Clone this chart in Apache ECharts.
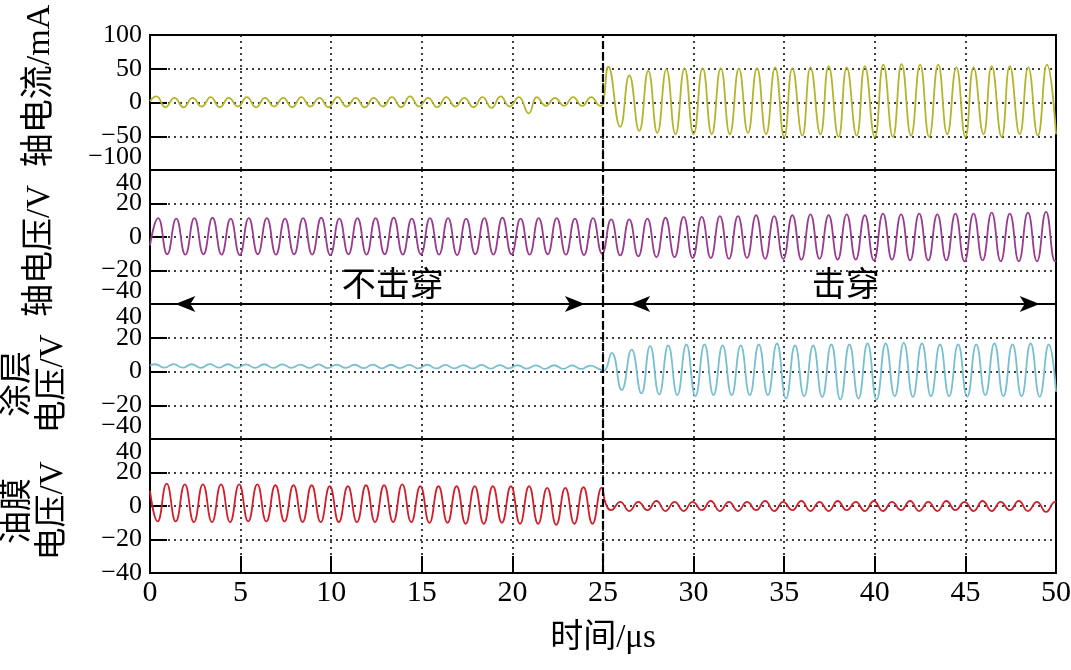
<!DOCTYPE html>
<html><head><meta charset="utf-8">
<script src="https://cdn.jsdelivr.net/npm/echarts@6/dist/echarts.min.js"></script>
<style>html,body{margin:0;padding:0;background:#fff}#c{width:1071px;height:670px}</style>
</head><body><div id="c"></div>
<script>
const panelNames = ['轴电流/mA', '轴电压/V', '涂层\n电压/V', '油膜\n电压/V'];
const xAxisName = '时间/μs';
const stateLabels = ['不击穿', '击穿'];
const breakTime = [25];
const arrowSpans = [[1.4, 24.0], [26.5, 49.1]];
const labelPoints = [[13.4, -30], [38.4, -30]];
const yRanges = [[-100, 100, 50], [-40, 40, 20], [-40, 40, 20], [-40, 40, 20]];
const xRange = [0, 50, 5];

const shaftCurrent = [
[0,2],[0.35,9],[0.85,-7],[1.35,7],[1.85,-7],[2.35,7],[2.85,-6],[3.35,8],[3.85,-7],[4.35,7],[4.85,-6],
[5.35,8],[5.85,-7],[6.35,7],[6.85,-6],[7.35,7],[7.85,-7],[8.35,8],[8.85,-6],[9.35,7],[9.85,-7],
[10.35,8],[10.85,-6],[11.35,7],[11.85,-7],[12.35,7],[12.85,-6],[13.35,8],[13.85,-7],[14.35,9],[14.85,-6],
[15.35,7],[15.85,-7],[16.35,8],[16.85,-6],[17.35,7],[17.85,-7],[18.35,8],[18.85,-8],[19.35,9],[19.85,-6],
[20.35,8],[20.9,-16],[21.35,8],[21.85,-5],[22.35,7],[22.85,-5],[23.35,8],[23.85,-5],[24.35,8],[24.85,-5],
[25.0,-2],[25.3,53],[25.95,-36],[26.45,40],[27.0,-42],[27.5,47],[28.0,-45],[28.5,49],[29.0,-47],[29.5,51],
[30.0,-47],[30.5,51],[31.0,-47],[31.5,51],[32.0,-47],[32.5,50],[33.0,-45],[33.5,51],[34.0,-47],[34.5,52],
[35.0,-51],[35.45,51],[36.0,-49],[36.45,52],[37.0,-47],[37.45,54],[38.0,-51],[38.45,52],[39.0,-49],[39.45,54],
[40.0,-51],[40.47,56],[41.0,-51],[41.48,57],[42.0,-49],[42.5,56],[43.0,-51],[43.5,56],[44.0,-47],[44.5,52],
[45.0,-51],[45.45,52],[46.0,-47],[46.45,54],[47.0,-51],[47.45,54],[48.0,-47],[48.47,52],[49.0,-49],[49.5,56],[50.0,-47]
];

const shaftVoltage = [
[0,-5],[0.45,11.3],[0.95,-10.3],[1.45,11.0],[1.95,-10.5],[2.45,11.3],[2.95,-10.3],[3.45,11.5],[3.95,-10.5],
[4.45,11.0],[4.95,-10.8],[5.45,11.3],[5.95,-10.3],[6.45,11.3],[6.95,-10.5],[7.45,11.0],[7.95,-10.3],
[8.45,11.3],[8.95,-10.5],[9.45,11.5],[9.95,-10.8],[10.45,11.0],[10.95,-10.3],[11.45,11.3],[11.95,-10.5],
[12.45,11.3],[12.95,-10.3],[13.45,11.5],[13.95,-10.5],[14.45,11.0],[14.95,-10.3],[15.45,11.3],[15.95,-10.5],
[16.45,11.3],[16.95,-10.8],[17.45,11.0],[17.95,-10.3],[18.45,11.3],[18.95,-10.5],[19.45,11.5],[19.95,-10.3],
[20.45,11.0],[20.95,-10.5],[21.45,11.3],[21.95,-10.3],[22.45,11.3],[22.95,-10.5],[23.45,11.0],[23.95,-10.8],
[24.45,11.3],[24.95,-10.0],[25.45,10.5],[25.95,-11.0],[26.45,10.5],[26.95,-11.5],[27.45,11.0],[27.95,-12.0],
[28.45,11.5],[28.95,-12.0],[29.45,12.0],[29.95,-12.5],[30.45,12.0],[30.95,-12.5],[31.45,12.5],[31.95,-13.0],
[32.45,12.5],[32.95,-12.5],[33.45,13.0],[33.95,-13.0],[34.45,12.5],[34.95,-13.0],[35.45,13.0],[35.95,-13.5],
[36.45,13.5],[36.95,-13.0],[37.45,13.0],[37.95,-13.5],[38.45,13.5],[38.95,-13.5],[39.45,13.0],[39.95,-14.0],
[40.45,14.0],[40.95,-13.5],[41.45,13.5],[41.95,-14.0],[42.45,14.0],[42.95,-14.0],[43.45,13.5],[43.95,-14.0],
[44.45,14.0],[44.95,-14.5],[45.45,14.0],[45.95,-14.0],[46.45,14.5],[46.95,-14.5],[47.45,14.0],[47.95,-14.5],
[48.45,14.5],[48.95,-14.5],[49.45,15.0],[49.95,-14.5],[50,-14]
];

const coatingVoltage = [
[0,3.5],[0.3,4.3],[0.8,2.3],[1.3,4.4],[1.8,2.3],[2.3,4.3],[2.8,2.2],[3.3,4.4],[3.8,2.3],[4.3,4.3],[4.8,2.2],
[5.3,4.2],[5.8,2.2],[6.3,4.3],[6.8,2.1],[7.3,4.2],[7.8,2.2],[8.3,4.1],[8.8,2.1],[9.3,4.2],[9.8,2.0],
[10.3,4.1],[10.8,2.1],[11.3,4.0],[11.8,2.0],[12.3,4.1],[12.8,1.9],[13.3,4.0],[13.8,2.0],[14.3,3.9],[14.8,1.9],
[15.3,4.0],[15.8,1.8],[16.3,3.9],[16.8,1.9],[17.3,3.8],[17.8,1.8],[18.3,3.9],[18.8,1.7],[19.3,3.8],[19.8,1.8],
[20.3,3.7],[20.8,1.7],[21.3,3.6],[21.8,1.6],[22.3,3.7],[22.8,1.6],[23.3,3.6],[23.8,1.5],[24.3,3.5],[24.8,1.4],
[25.05,0.5],[25.48,11],[26.03,-11],[26.58,13],[27.12,-13],[27.6,15],[28.1,-13.6],[28.6,15.4],[29.1,-14],[29.6,16],
[30.1,-14.6],[30.6,16],[31.1,-14],[31.6,15.4],[32.1,-14],[32.6,15.4],[33.1,-14],[33.6,16],[34.1,-14],[34.6,16.6],
[35.1,-16],[35.6,15.4],[36.1,-14.6],[36.6,15.4],[37.1,-15],[37.6,16],[38.1,-16.6],[38.6,16],[39.1,-16],[39.6,16.6],
[40.1,-16.6],[40.6,16.6],[41.1,-14.6],[41.6,17],[42.1,-15],[42.6,16.6],[43.1,-14.6],[43.6,16],[44.1,-14.6],[44.6,16],
[45.1,-15],[45.6,16],[46.1,-14],[46.6,16.6],[47.1,-14.6],[47.6,16],[48.1,-14.6],[48.6,16.6],[49.1,-15],[49.6,16],[50,-12]
];

const oilFilmVoltage = [
[0,9],[0.42,-9.2],[0.92,13.3],[1.42,-9.2],[1.92,12.9],[2.42,-9.6],[2.92,12.9],[3.42,-9.6],[3.92,12.9],[4.42,-9.6],
[4.92,12.9],[5.42,-9.2],[5.92,12.9],[6.42,-9.2],[6.92,12.4],[7.42,-9.2],[7.92,12.4],[8.42,-9.6],[8.92,12.4],[9.42,-9.6],
[9.92,11.8],[10.42,-9.6],[10.92,11.8],[11.42,-9.6],[11.92,12.4],[12.42,-9.6],[12.92,12.4],[13.42,-9.6],[13.92,12.9],
[14.42,-9.6],[14.92,11.8],[15.42,-10],[15.92,11.8],[16.42,-10],[16.92,11.8],[17.42,-10.6],[17.92,11.8],[18.42,-10.6],
[18.92,11.8],[19.42,-10],[19.92,11.8],[20.42,-10.6],[20.92,11.8],[21.42,-10.6],[21.92,10.8],[22.42,-11.2],[22.92,10.8],
[23.42,-10.6],[23.92,11.2],[24.42,-10.6],[24.93,11],[25.15,1.5],
[25.45,-2.5],[25.95,2.5],[26.45,-3],[26.95,2.5],[27.45,-2.5],[27.95,3],[28.45,-3],[28.95,2.5],[29.45,-3],[29.95,2.5],
[30.45,-2.5],[30.95,3],[31.45,-3],[31.95,2.5],[32.45,-3],[32.95,2.5],[33.45,-2.5],[33.95,3],[34.45,-3],[34.95,2.5],
[35.45,-2.5],[35.95,3],[36.45,-3],[36.95,2.5],[37.45,-3],[37.95,3],[38.45,-2.5],[38.95,2.5],[39.45,-3],[39.95,3],
[40.45,-3],[40.95,2.5],[41.45,-2.5],[41.95,3],[42.45,-3],[42.95,2.5],[43.45,-3],[43.95,3],[44.45,-2.5],[44.95,2.5],
[45.45,-3],[45.95,3],[46.45,-3],[46.95,2.5],[47.45,-2.5],[47.95,3],[48.45,-3],[48.95,2.5],[49.45,-3.5],[49.95,2.5],[50,2]
];

const seriesData = [shaftCurrent, shaftVoltage, coatingVoltage, oilFilmVoltage];
const seriesColors = ['#b5b42c', '#993c8f', '#78bfd0', '#cf1f2b'];

const SERIF = '"Liberation Serif", "Times New Roman", "Noto Sans CJK SC", serif';
const gridTops = [35, 170, 304, 439];
const gridHeights = [135, 134, 135, 134];
const maxAlign = ['middle', 'top', 'top', 'top'];
const minAlign = ['bottom', 'bottom', 'bottom', 'middle'];
const minus = v => String(v).replace('-', '\u2212');
const dotted = { color: '#000', type: [2, 4], width: 1.5 };

const grids = gridTops.map((t, i) => ({
  left: 150, right: 15, top: t, height: gridHeights[i],
  outerBoundsMode: 'none', containLabel: false,
  show: true, borderColor: '#000', borderWidth: 2, backgroundColor: 'transparent'
}));

const xAxes = gridTops.map((t, i) => ({
  type: 'value', gridIndex: i, min: xRange[0], max: xRange[1], interval: xRange[2],
  position: 'bottom',
  axisLine: { show: false, onZero: false },
  axisTick: i === 3 ? { show: true, inside: true, length: 17, lineStyle: { color: '#000', width: 2 } } : { show: false },
  axisLabel: i === 3 ? { show: true, color: '#000', fontFamily: SERIF, fontSize: 30, margin: 5, showMinLabel: true, showMaxLabel: true, hideOverlap: false } : { show: false },
  splitLine: { show: true, lineStyle: dotted },
  name: i === 3 ? xAxisName : '',
  nameLocation: 'middle', nameGap: 49,
  nameTextStyle: { color: '#000', fontFamily: SERIF, fontSize: 33 }
}));

// main y axes: ticks, grid lines, interior labels
const yAxes = yRanges.map((r, i) => ({
  type: 'value', gridIndex: i, min: r[0], max: r[1], interval: r[2],
  axisLine: { show: false, onZero: false },
  axisTick: { show: true, inside: true, length: 17, lineStyle: { color: '#000', width: 2 } },
  axisLabel: {
    color: '#000', fontFamily: SERIF, fontSize: 26, margin: 8, formatter: minus,
    showMinLabel: false, showMaxLabel: false
  },
  splitLine: { show: true, lineStyle: dotted }
}));
// companion y axes carrying only the end labels, nudged inward like the original
yRanges.forEach((r, i) => {
  yAxes.push({
    type: 'value', gridIndex: i, min: r[0], max: r[1], interval: r[2], position: 'left',
    axisLine: { show: false, onZero: false }, axisTick: { show: false }, splitLine: { show: false },
    axisLabel: {
      color: '#000', fontFamily: SERIF, fontSize: 26, margin: 8,
      showMinLabel: true, showMaxLabel: true,
      formatter: v => (v === r[0] || v === r[1]) ? minus(v) : '',
      verticalAlignMaxLabel: maxAlign[i], verticalAlignMinLabel: minAlign[i]
    }
  });
});

const breakLine = {
  silent: true, symbol: 'none', animation: false,
  lineStyle: { color: '#000', width: 2.2, type: [8, 3] },
  label: { show: false },
  data: [{ xAxis: breakTime[0] }]
};

const series = seriesData.map((d, i) => ({
  type: 'line', xAxisIndex: i, yAxisIndex: i, data: d,
  showSymbol: false, smooth: true,
  lineStyle: { color: seriesColors[i], width: 1.8 },
  itemStyle: { color: seriesColors[i] },
  markLine: breakLine, z: 3
}));

series.push({
  type: 'line', xAxisIndex: 1, yAxisIndex: 1, data: [], z: 5,
  markLine: {
    silent: true, animation: false, symbol: ['arrow', 'arrow'], symbolSize: [12, 20],
    lineStyle: { color: '#000', width: 2, type: 'solid' },
    label: { show: false },
    data: arrowSpans.map(s => [{ coord: [s[0], yRanges[1][0]] }, { coord: [s[1], yRanges[1][0]] }])
  },
  markPoint: {
    silent: true, animation: false, symbol: 'circle', symbolSize: 0,
    label: { show: true, formatter: '{b}', color: '#000', fontSize: 34, fontFamily: SERIF },
    data: labelPoints.map((p, k) => ({ coord: p, name: stateLabels[k] }))
  }
});

const namePos = [[40, 86], [40, 251], [35.5, 384], [35.5, 511]];
const graphic = panelNames.map((n, i) => ({
  type: 'text', x: namePos[i][0], y: namePos[i][1], rotation: Math.PI / 2, silent: true,
  style: { text: n, fill: '#000', fontSize: i === 0 ? 34 : 33, fontFamily: SERIF, lineHeight: 35, align: 'center', verticalAlign: 'middle' }
}));

const chart = echarts.init(document.getElementById('c'), null, { renderer: 'canvas' });
chart.setOption({
  animation: false,
  backgroundColor: '#fff',
  grid: grids, xAxis: xAxes, yAxis: yAxes, series: series, graphic: graphic
});
</script>
</body></html>
